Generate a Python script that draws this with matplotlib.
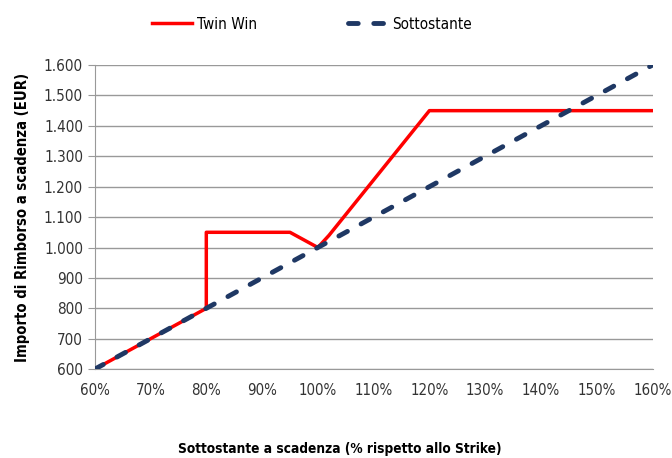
import numpy as np
import matplotlib.pyplot as plt
from matplotlib.ticker import FuncFormatter

plt.rcParams['font.family'] = ['DejaVu Sans']
plt.rcParams['font.stretch'] = 'condensed'

# data
twin_x = [60, 80, 80, 95, 100, 102, 120, 160]
twin_y = [600, 800, 1050, 1050, 1000, 1040, 1450, 1450]
under_x = [60, 160]
under_y = [600, 1600]

fig = plt.figure(figsize=(6.72, 4.58), dpi=100)
ax = fig.add_axes([0.141, 0.194, 0.830, 0.664])

ax.plot(twin_x, twin_y, color='#ff0000', lw=2.5, label='Twin Win', zorder=3)
ax.plot(under_x, under_y, color='#1f3864', lw=3.5, ls=(0, (2, 3.2)),
        dash_capstyle='round', label='Sottostante', zorder=4)

ax.set_xlim(60, 160)
ax.set_ylim(600, 1600)
ax.set_xticks(np.arange(60, 161, 10))
ax.set_yticks(np.arange(600, 1601, 100))
ax.xaxis.set_major_formatter(FuncFormatter(lambda v, p: f"{int(v)}%"))
ax.yaxis.set_major_formatter(FuncFormatter(lambda v, p: f"{int(v):,}".replace(',', '.')))
ax.grid(axis='y', color='#999999', lw=1)
ax.set_axisbelow(True)
for s in ['top', 'right']:
    ax.spines[s].set_visible(False)
ax.spines['left'].set_color('#999999')
ax.spines['bottom'].set_color('#999999')
ax.tick_params(axis='y', length=5, color='#999999', labelsize=11, labelcolor='#333333')
ax.tick_params(axis='x', length=0, pad=10, labelsize=10.8, labelcolor='#333333')

ax.set_ylabel('Importo di Rimborso a scadenza (EUR)', fontsize=10.6,
              fontweight='bold', labelpad=10)
ax.set_xlabel('Sottostante a scadenza (% rispetto allo Strike)', fontsize=9.8,
              fontweight='bold')
ax.xaxis.set_label_coords(0.439, -0.24)

ax.legend(loc='lower center', bbox_to_anchor=(0.39, 1.065), ncol=2, frameon=False,
          fontsize=11, handlelength=2.6, columnspacing=6, handletextpad=0.3)

fig.savefig('out.png', dpi=100)
